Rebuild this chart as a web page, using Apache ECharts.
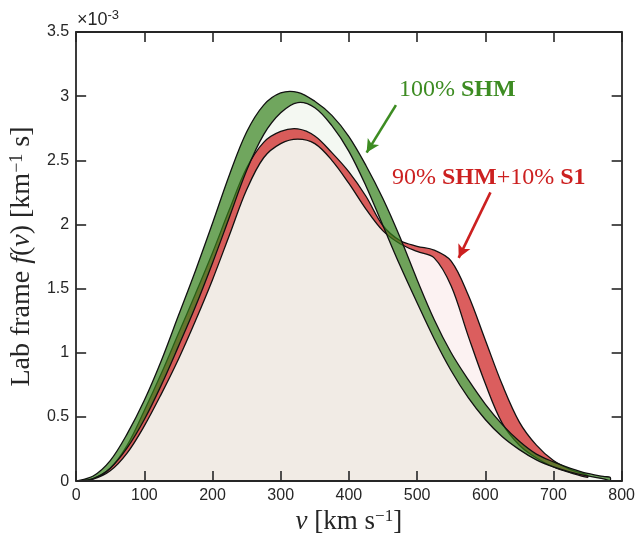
<!DOCTYPE html>
<html><head><meta charset="utf-8">
<script src="https://cdn.jsdelivr.net/npm/echarts@6/dist/echarts.min.js"></script>
<style>html,body{margin:0;padding:0;background:#fff}#c{width:638px;height:540px}</style>
</head><body><div id="c"></div>
<script>
// speed grid, km/s
const speeds = [0,25,50,75,100,125,150,175,200,225,250,275,300,325,350,375,400,425,450,475,500,525,550,575,600,625,650,675,700,725,750,775,783];
// 100% SHM band (units of 1e-3 s/km)
const shmUpper = [0,0.04,0.16,0.37,0.63,0.94,1.29,1.64,2.01,2.39,2.72,2.93,3.025,3.03,2.96,2.85,2.685,2.46,2.20,1.90,1.57,1.26,1.00,0.79,0.60,0.44,0.31,0.21,0.15,0.10,0.06,0.035,0.03];
const shmLower = [0,0.02,0.10,0.26,0.48,0.75,1.05,1.36,1.70,2.06,2.42,2.70,2.87,2.95,2.91,2.77,2.57,2.30,1.99,1.68,1.39,1.11,0.86,0.65,0.48,0.345,0.245,0.165,0.11,0.07,0.04,0.015,0.005];
// 90% SHM + 10% S1 band
const s1Upper = [0,0.02,0.10,0.28,0.55,0.84,1.15,1.46,1.78,2.12,2.44,2.64,2.725,2.745,2.69,2.56,2.41,2.22,1.99,1.875,1.83,1.80,1.715,1.45,1.10,0.75,0.46,0.28,0.16,0.09,0.045,null,null];
const s1Lower = [0,0.015,0.08,0.22,0.43,0.68,0.95,1.25,1.57,1.92,2.27,2.52,2.63,2.665,2.63,2.50,2.32,2.12,1.95,1.85,1.79,1.74,1.52,1.13,0.76,0.45,0.28,0.18,0.11,0.065,0.03,null,null];
// axis ticks
const xTicks = [0,100,200,300,400,500,600,700,800];
const yTicks = [0,0.5,1,1.5,2,2.5,3,3.5];
// annotation labels and arrow ends (data units)
const shmLabel = '100% {b|SHM}';
const s1Label = '90% {b|SHM}+10% {b|S1}';
const shmArrow = [[469, 2.93], [426, 2.56]];
const s1Arrow = [[607.6, 2.25], [561, 1.74]];

const GREEN = '#3d8c22', RED = '#cc2020';
const SM = 0.35;
const serif = 'Liberation Serif';
const sans = 'Liberation Sans';
const axCol = '#262626';

function curvePts(api, ys, other) {
  const pts = [];
  speeds.forEach((v, i) => {
    if (ys[i] != null && (!other || other[i] != null)) pts.push(api.coord([v, ys[i]]));
  });
  return pts;
}
function bandSeries(up, lo, fill) {
  return {type: 'custom', coordinateSystem: 'cartesian2d', silent: true, animation: false, clip: true,
    xAxisIndex: 0, yAxisIndex: 0, data: [[0, 0]],
    renderItem: function (params, api) {
      const top = curvePts(api, up, lo);
      const bot = curvePts(api, lo, up).reverse();
      const last = bot[bot.length - 1], first = top[0];
      if (Math.abs(last[0] - first[0]) < 0.01 && Math.abs(last[1] - first[1]) < 0.01) bot.pop();
      return {type: 'polygon', shape: {points: top.concat(bot), smooth: SM},
        style: {fill: fill, stroke: '#111', lineWidth: 1.3}};
    }};
}
function underSeries(lo, fill) {
  return {type: 'custom', coordinateSystem: 'cartesian2d', silent: true, animation: false, clip: true,
    xAxisIndex: 0, yAxisIndex: 0, data: [[0, 0]],
    renderItem: function (params, api) {
      const pts = curvePts(api, lo);
      const baseLine = [];
      speeds.forEach((v, i) => { if (lo[i] != null && i > 0) baseLine.push(api.coord([v, 0])); });
      return {type: 'polygon', shape: {points: pts.concat(baseLine.reverse()), smooth: SM},
        style: {fill: fill, stroke: null}};
    }};
}

function xAxis(pos, showLabel) {
  return {type: 'value', position: pos, min: xTicks[0], max: xTicks[xTicks.length - 1], interval: 100, z: 10,
    axisLine: {show: true, onZero: false, lineStyle: {color: axCol, width: 1.8}},
    axisTick: {show: true, inside: true, length: 10, lineStyle: {color: axCol, width: 1.6}},
    splitLine: {show: false},
    axisLabel: {show: showLabel, fontFamily: sans, fontSize: 16, color: axCol, margin: 6}};
}
function yAxis(pos, showLabel) {
  return {type: 'value', position: pos, min: yTicks[0], max: yTicks[yTicks.length - 1], interval: 0.5, z: 10,
    axisLine: {show: true, onZero: false, lineStyle: {color: axCol, width: 1.8}},
    axisTick: {show: true, inside: true, length: 10, lineStyle: {color: axCol, width: 1.6}},
    splitLine: {show: false},
    axisLabel: {show: showLabel, fontFamily: sans, fontSize: 16, color: axCol, margin: 7}};
}
function nameRich(size) {
  return {it: {fontFamily: serif, fontSize: size, fontStyle: 'italic', color: axCol},
    sup: {fontFamily: serif, fontSize: Math.round(size * 0.64), color: axCol, verticalAlign: 'top'}};
}
const xa = [xAxis('bottom', true), xAxis('top', false)];
Object.assign(xa[0], {name: '{it|v} [km s{sup|−1}]', nameLocation: 'middle', nameGap: 25,
  nameTextStyle: {fontFamily: serif, fontSize: 27, color: axCol, rich: nameRich(27)}});
const ya = [yAxis('left', true), yAxis('right', false)];
Object.assign(ya[0], {name: 'Lab frame {it|f}({it|v}) [km{sup|−1} s]', nameLocation: 'middle', nameGap: 35,
  nameTextStyle: {fontFamily: serif, fontSize: 28, color: axCol, rich: nameRich(28)}});

function arrow(pts, color) {
  return {silent: true, animation: false, symbol: ['none', 'arrow'], symbolSize: [10, 13],
    label: {show: false}, lineStyle: {type: 'solid', width: 2.6, color: color},
    data: [[{coord: pts[0]}, {coord: pts[1]}]]};
}
function arrowHolder(ys, mark) {
  return {type: 'line', silent: true, animation: false, symbol: 'none', xAxisIndex: 0, yAxisIndex: 0,
    data: speeds.map((v, i) => [v, ys[i]]), lineStyle: {opacity: 0, width: 0}, markLine: mark};
}

const option = {
  animation: false,
  backgroundColor: '#fff',
  grid: {left: 75, right: 15, top: 32, bottom: 57, containLabel: false},
  xAxis: xa,
  yAxis: ya,
  series: [
    underSeries(shmLower, 'rgba(51,128,26,0.055)'),
    underSeries(s1Lower, 'rgba(204,26,26,0.055)'),
    bandSeries(s1Upper, s1Lower, 'rgba(204,26,26,0.7)'),
    bandSeries(shmUpper, shmLower, 'rgba(51,128,26,0.7)'),
    arrowHolder(s1Upper, arrow(s1Arrow, RED)),
    arrowHolder(shmUpper, arrow(shmArrow, GREEN))
  ],
  graphic: [
    {type: 'text', left: 399, top: 78, silent: true, style: {text: shmLabel, fontFamily: serif, fontSize: 24, fill: GREEN,
      rich: {b: {fontFamily: serif, fontSize: 24, fontWeight: 'bold', fill: GREEN}}}},
    {type: 'text', left: 392, top: 166, silent: true, style: {text: s1Label, fontFamily: serif, fontSize: 24, fill: RED,
      rich: {b: {fontFamily: serif, fontSize: 24, fontWeight: 'bold', fill: RED}}}},
    {type: 'text', left: 77, top: 9, silent: true, style: {text: '×10{s|-3}', fontFamily: sans, fontSize: 18, fill: axCol,
      rich: {s: {fontFamily: sans, fontSize: 13, fill: axCol, verticalAlign: 'top', padding: [0, 0, 9, 0]}}}}
  ]
};
const chart = echarts.init(document.getElementById('c'), null, {renderer: 'canvas'});
chart.setOption(option);
</script></body></html>
